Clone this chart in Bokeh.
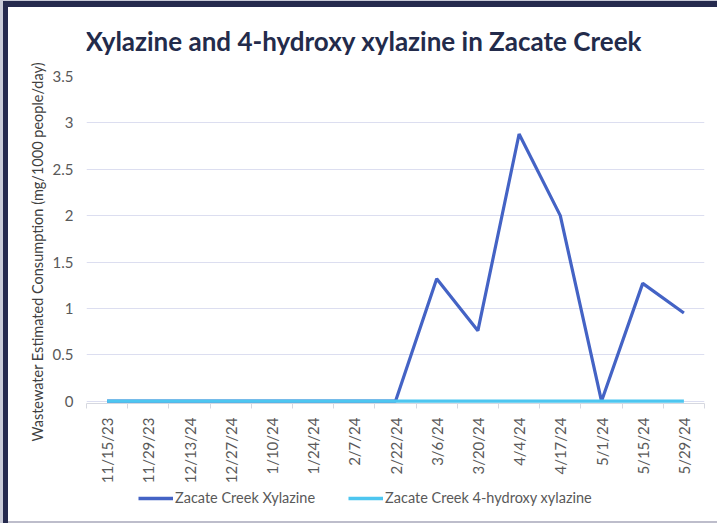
from bokeh.plotting import figure
from bokeh.models import Range1d, FixedTicker, Legend, LegendItem, Title, Label
from bokeh.layouts import column
from bokeh.embed import file_html
from bokeh.resources import INLINE

title = "Xylazine and 4-hydroxy xylazine in Zacate Creek"
dates = ["11/15/23", "11/29/23", "12/13/24", "12/27/24", "1/10/24", "1/24/24", "2/7/24",
         "2/22/24", "3/6/24", "3/20/24", "4/4/24", "4/17/24", "5/1/24", "5/15/24", "5/29/24"]
xylazine = [0, 0, 0, 0, 0, 0, 0, 0, 1.32, 0.76, 2.88, 2.0, 0, 1.27, 0.95]
hydroxy = [0, 0, 0, 0, 0, 0, 0, 0, 0, 0, 0, 0, 0, 0, 0]
series_names = ["Zacate Creek Xylazine", "Zacate Creek 4-hydroxy xylazine"]
series_colors = ["#4463C5", "#4DC6F0"]
y_ticks = [0, 0.5, 1, 1.5, 2, 2.5, 3, 3.5]
y_tick_labels = ["0", "0.5", "1", "1.5", "2", "2.5", "3", "3.5"]
y_label = "Wastewater Estimated Consumption (mg/1000 people/day)"

n = len(dates)
xs = list(range(n))


def strip(height):
    f = figure(width=717, height=height, output_backend="svg", toolbar_location=None,
               x_range=Range1d(0, 1), y_range=Range1d(100, 101),
               min_border_left=0, min_border_right=0, min_border_bottom=0, min_border_top=0)
    f.axis.visible = False
    f.grid.grid_line_color = None
    f.outline_line_color = None
    f.background_fill_alpha = 0
    f.border_fill_alpha = 0
    return f


# title strip
t = strip(56)
t.add_layout(Label(x=-1, y=16, x_units="screen", y_units="screen", text=title,
                   text_font="Lato", text_font_style="bold", text_font_size="26px",
                   text_color="#232B4B", text_align="left", text_baseline="alphabetic"))

# main chart
p = figure(width=717, height=434, output_backend="svg", toolbar_location=None,
           x_range=Range1d(-0.5, n - 0.5), y_range=Range1d(-0.025, 3.5),
           min_border_left=86, min_border_right=13, min_border_bottom=87, min_border_top=20)
p.background_fill_color = "white"
p.border_fill_alpha = 0
p.outline_line_color = None

# x axis
p.xaxis.ticker = FixedTicker(ticks=xs, minor_ticks=[i - 0.5 for i in range(n + 1)])
p.xaxis.major_label_overrides = {i: d for i, d in zip(xs, dates)}
p.xaxis.major_label_orientation = 3.14159265 / 2
p.xaxis.major_tick_line_color = None
p.xaxis.major_tick_out = 0
p.xaxis.major_tick_in = 0
p.xaxis.minor_tick_line_color = "#D6D8E0"
p.xaxis.minor_tick_out = 5
p.xaxis.minor_tick_in = 0
p.xaxis.axis_line_color = "#D6D8E0"
p.xaxis.major_label_text_font = "Lato"
p.xaxis.major_label_text_font_size = "15px"
p.xaxis.major_label_text_color = "#595959"
p.xaxis.major_label_standoff = 9

# y axis
p.yaxis.ticker = FixedTicker(ticks=y_ticks, minor_ticks=[])
p.yaxis.major_label_overrides = {tk: lb for tk, lb in zip(y_ticks, y_tick_labels)}
p.yaxis.axis_line_color = None
p.yaxis.major_tick_line_color = None
p.yaxis.major_tick_out = 0
p.yaxis.major_tick_in = 0
p.yaxis.minor_tick_line_color = None
p.yaxis.major_label_text_font = "Lato"
p.yaxis.major_label_text_font_size = "15px"
p.yaxis.major_label_text_color = "#595959"
p.yaxis.major_label_standoff = 13

ylab = Title(text=y_label, align="left", offset=-38, standoff=8,
             text_font="Lato", text_font_style="normal", text_font_size="14.5px",
             text_color="#404040")
p.add_layout(ylab, "left")

p.xgrid.grid_line_color = None
p.ygrid.ticker = FixedTicker(ticks=y_ticks)
p.ygrid.grid_line_color = "#DCDEF0"
p.ygrid.grid_line_width = 1

p.line(xs, xylazine, line_color=series_colors[0], line_width=3.2)
p.line(xs, hydroxy, line_color=series_colors[1], line_width=3.2)

# legend strip (its ranges keep the sample lines out of view; only the legend shows)
q = strip(33)
k1 = q.line(xs, xylazine, line_color=series_colors[0], line_width=3.4)
k2 = q.line(xs, hydroxy, line_color=series_colors[1], line_width=3.4)
legend = Legend(items=[LegendItem(label=series_names[0], renderers=[k1]),
                       LegendItem(label=series_names[1], renderers=[k2])],
                orientation="horizontal", location=(52, 17),
                glyph_width=35, glyph_height=16, label_height=16, label_standoff=2,
                spacing=33, padding=0, margin=0,
                label_text_font="Lato", label_text_font_size="14.5px",
                label_text_color="#595959",
                background_fill_alpha=0, border_line_color=None)
q.add_layout(legend, "center")

layout = column(t, p, q, spacing=0)
layout.styles = {"background-color": "white",
                 "box-shadow": "inset 3px 1px 0 0 #C9CBD8, inset 8px 7px 0 0 #252A4E, inset 0 -2px 0 0 #BDBDCB"}

open("out.html", "w").write(file_html(layout, INLINE))
